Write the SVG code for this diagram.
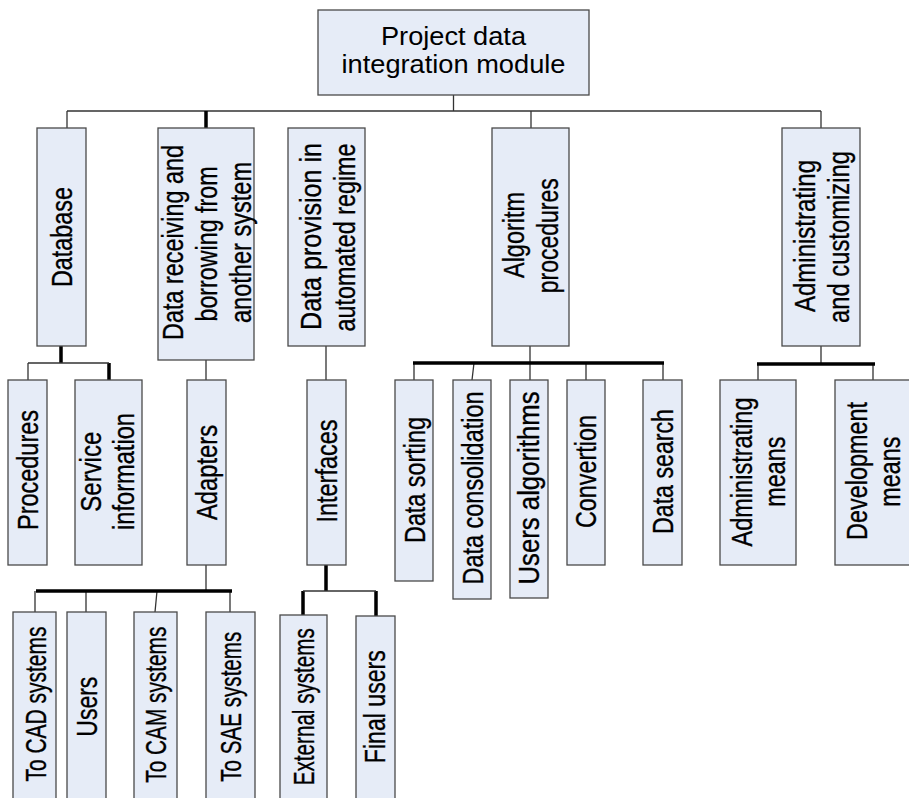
<svg xmlns="http://www.w3.org/2000/svg" width="909" height="798" viewBox="0 0 909 798">
<style>
.box{fill:#E6ECF7;stroke:#4a4a4a;stroke-width:1.3}
.t{font-family:"Liberation Sans",Arial,sans-serif;font-size:30px;fill:#000;stroke:#000;stroke-width:0.35;text-anchor:middle}
.h{font-family:"Liberation Sans",Arial,sans-serif;font-size:25px;fill:#000;text-anchor:middle}
.thin{stroke:#333;stroke-width:1.3;fill:none}
.thick{stroke:#000;stroke-width:3.5;fill:none}
</style>
<rect width="909" height="798" fill="#fff"/>
<g id="connectors">
<path class="thin" d="M453.5 95V111M67 111H821M67 111V128M531 111V128M821 111V128"/>
<path class="thick" d="M206 111V128"/>
<path class="thick" d="M61 346V363M109 363V380"/>
<path class="thin" d="M28 363H109M28 363V380"/>
<path class="thin" d="M206 360V380M326 346V380"/>
<path class="thin" d="M206 565V591M35 591V612M86 591V612M157 591L155 612M230 591V612"/>
<path class="thick" d="M36 591H232"/>
<path class="thick" d="M326 565V591M303 591V615M376 591V616"/>
<path class="thin" d="M303 591H376"/>
<path class="thin" d="M530 346V363M414 363V380M474 363L472 380M530 363V380M586 363V380M663 363V380"/>
<path class="thick" d="M413 363H664"/>
<path class="thin" d="M821 346V364M758 364V380M873 364V380"/>
<path class="thick" d="M757 364H875"/>
</g>
<g id="root"><rect class="box" x="318" y="10" width="271" height="85"/>
<text class="h" x="453.5" y="45" textLength="145" lengthAdjust="spacingAndGlyphs">Project data</text>
<text class="h" x="453.5" y="73" textLength="224" lengthAdjust="spacingAndGlyphs">integration module</text></g>
<g id="database"><rect class="box" x="37" y="128" width="49" height="218"/>
<text class="t" transform="translate(72,237) rotate(-90)" textLength="100" lengthAdjust="spacingAndGlyphs">Database</text></g>
<g id="receiving"><rect class="box" x="158" y="128" width="96" height="232"/>
<text class="t" transform="translate(183,242.5) rotate(-90)" textLength="195" lengthAdjust="spacingAndGlyphs">Data receiving and</text>
<text class="t" transform="translate(217,244) rotate(-90)" textLength="155" lengthAdjust="spacingAndGlyphs">borrowing from</text>
<text class="t" transform="translate(251,242.5) rotate(-90)" textLength="161" lengthAdjust="spacingAndGlyphs">another system</text></g>
<g id="provision"><rect class="box" x="288" y="128" width="77" height="218"/>
<text class="t" transform="translate(321,236.5) rotate(-90)" textLength="187" lengthAdjust="spacingAndGlyphs">Data provision in</text>
<text class="t" transform="translate(355,237.5) rotate(-90)" textLength="188" lengthAdjust="spacingAndGlyphs">automated regime</text></g>
<g id="algoritm"><rect class="box" x="492" y="128" width="77" height="218"/>
<text class="t" transform="translate(524,235) rotate(-90)" textLength="86" lengthAdjust="spacingAndGlyphs">Algoritm</text>
<text class="t" transform="translate(558,235.7) rotate(-90)" textLength="115" lengthAdjust="spacingAndGlyphs">procedures</text></g>
<g id="admin"><rect class="box" x="782" y="128" width="78" height="218"/>
<text class="t" transform="translate(815,236) rotate(-90)" textLength="152" lengthAdjust="spacingAndGlyphs">Administrating</text>
<text class="t" transform="translate(849,237) rotate(-90)" textLength="172" lengthAdjust="spacingAndGlyphs">and customizing</text></g>
<g id="procedures"><rect class="box" x="8" y="380" width="39" height="185"/>
<text class="t" transform="translate(38,470) rotate(-90)" textLength="120" lengthAdjust="spacingAndGlyphs">Procedures</text></g>
<g id="service"><rect class="box" x="75" y="380" width="67" height="185"/>
<text class="t" transform="translate(101,471.7) rotate(-90)" textLength="80" lengthAdjust="spacingAndGlyphs">Service</text>
<text class="t" transform="translate(134,471.5) rotate(-90)" textLength="117" lengthAdjust="spacingAndGlyphs">information</text></g>
<g id="adapters"><rect class="box" x="187" y="380" width="39" height="185"/>
<text class="t" transform="translate(217,472.5) rotate(-90)" textLength="95" lengthAdjust="spacingAndGlyphs">Adapters</text></g>
<g id="interfaces"><rect class="box" x="307" y="380" width="39" height="185"/>
<text class="t" transform="translate(337,471) rotate(-90)" textLength="103" lengthAdjust="spacingAndGlyphs">Interfaces</text></g>
<g id="sorting"><rect class="box" x="395" y="380" width="38" height="201"/>
<text class="t" transform="translate(425,480) rotate(-90)" textLength="126" lengthAdjust="spacingAndGlyphs">Data sorting</text></g>
<g id="consolidation"><rect class="box" x="453" y="380" width="38" height="219"/>
<text class="t" transform="translate(483,488) rotate(-90)" textLength="193" lengthAdjust="spacingAndGlyphs">Data consolidation</text></g>
<g id="usersalg"><rect class="box" x="510" y="380" width="38" height="218"/>
<text class="t" transform="translate(539,488) rotate(-90)" textLength="193" lengthAdjust="spacingAndGlyphs">Users algorithms</text></g>
<g id="convertion"><rect class="box" x="567" y="380" width="38" height="185"/>
<text class="t" transform="translate(596,471.5) rotate(-90)" textLength="113" lengthAdjust="spacingAndGlyphs">Convertion</text></g>
<g id="search"><rect class="box" x="643" y="380" width="39" height="185"/>
<text class="t" transform="translate(673,471.5) rotate(-90)" textLength="125" lengthAdjust="spacingAndGlyphs">Data search</text></g>
<g id="adminmeans"><rect class="box" x="720" y="380" width="76" height="185"/>
<text class="t" transform="translate(752,472) rotate(-90)" textLength="149" lengthAdjust="spacingAndGlyphs">Administrating</text>
<text class="t" transform="translate(785,471.7) rotate(-90)" textLength="70" lengthAdjust="spacingAndGlyphs">means</text></g>
<g id="devmeans"><rect class="box" x="835" y="380" width="80" height="185"/>
<text class="t" transform="translate(867,471) rotate(-90)" textLength="138" lengthAdjust="spacingAndGlyphs">Development</text>
<text class="t" transform="translate(900,471.7) rotate(-90)" textLength="70" lengthAdjust="spacingAndGlyphs">means</text></g>
<g id="cad"><rect class="box" x="13" y="612" width="43" height="200"/>
<text class="t" transform="translate(46,704) rotate(-90)" textLength="155" lengthAdjust="spacingAndGlyphs">To CAD systems</text></g>
<g id="users"><rect class="box" x="67" y="612" width="39" height="200"/>
<text class="t" transform="translate(97,706.7) rotate(-90)" textLength="60" lengthAdjust="spacingAndGlyphs">Users</text></g>
<g id="cam"><rect class="box" x="134" y="612" width="43" height="200"/>
<text class="t" transform="translate(166,704.7) rotate(-90)" textLength="156" lengthAdjust="spacingAndGlyphs">To CAM systems</text></g>
<g id="sae"><rect class="box" x="206" y="612" width="49" height="200"/>
<text class="t" transform="translate(241,706.7) rotate(-90)" textLength="150" lengthAdjust="spacingAndGlyphs">To SAE systems</text></g>
<g id="external"><rect class="box" x="280" y="615" width="47" height="200"/>
<text class="t" transform="translate(314,706.7) rotate(-90)" textLength="157" lengthAdjust="spacingAndGlyphs">External systems</text></g>
<g id="finalusers"><rect class="box" x="356" y="616" width="39" height="200"/>
<text class="t" transform="translate(385,706.7) rotate(-90)" textLength="113" lengthAdjust="spacingAndGlyphs">Final users</text></g>
</svg>
